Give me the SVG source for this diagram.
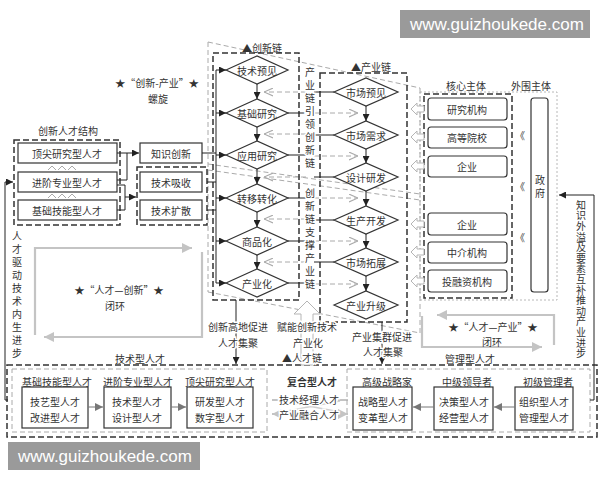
<svg xmlns="http://www.w3.org/2000/svg" width="600" height="480" viewBox="0 0 600 480">
<defs>
<style>
.t{font-family:"Noto Sans CJK SC","Noto Sans",sans-serif;font-size:10px;fill:#333;text-anchor:middle;dominant-baseline:central}
.v{font-family:"Noto Sans CJK SC","Noto Sans",sans-serif;font-size:10px;fill:#333;writing-mode:vertical-rl;text-anchor:start}
.h{stroke:#fff;stroke-width:3;paint-order:stroke}
.box{fill:#fff;stroke:#333;stroke-width:1.2}
.dash{fill:none;stroke:#333;stroke-width:1.5;stroke-dasharray:6,3}
.gdash{fill:none;stroke:#aaa;stroke-width:1;stroke-dasharray:5,3}
.gdot{fill:none;stroke:#b0b0b0;stroke-width:0.9;stroke-dasharray:2,2}
.ln{fill:none;stroke:#222;stroke-width:1}
.ga{fill:none;stroke:#aaa;stroke-width:1;stroke-dasharray:5,3}
.gl{fill:none;stroke:#c4c4c4;stroke-width:2.2}
.ho{fill:#fff;stroke:#b5b5b5;stroke-width:1}
.dm{fill:#fff;stroke:#333;stroke-width:1.2}
.wm{font-family:"Liberation Sans",Arial,sans-serif;font-size:17px;fill:#fff;dominant-baseline:central}
</style>
<marker id="ab" viewBox="0 0 8 8" refX="8" refY="4" markerWidth="7" markerHeight="7" markerUnits="userSpaceOnUse" orient="auto"><path d="M0,0L8,4L0,8z" fill="#222"/></marker>
<marker id="ag" viewBox="0 0 8 8" refX="8" refY="4" markerWidth="9" markerHeight="9" markerUnits="userSpaceOnUse" orient="auto"><path d="M0,0.5L8,4L0,7.5" fill="none" stroke="#aaa" stroke-width="1"/></marker>
<marker id="agf" viewBox="0 0 8 8" refX="8" refY="4" markerWidth="10" markerHeight="10" markerUnits="userSpaceOnUse" orient="auto"><path d="M0,0L8,4L0,8z" fill="#c4c4c4"/></marker>
<marker id="agm" viewBox="0 0 8 8" refX="8" refY="4" markerWidth="8" markerHeight="8" markerUnits="userSpaceOnUse" orient="auto"><path d="M0,0L8,4L0,8z" fill="#777"/></marker>
</defs>
<rect width="600" height="480" fill="#fff"/>

<g id="spiral">
<path class="gdash" d="M208,42L420,88M208,42V292M420,88V333M208,292L420,333M208,164L420,194M208,170L420,200"/>
</g>

<g id="spiral-label">
<text class="t" x="157" y="82" font-size="10.5">★“创新-产业”★</text>
<text class="t" x="158" y="98">螺旋</text>
</g>

<g id="talent-structure">
<text class="t" x="68" y="130">创新人才结构</text>
<rect class="dash" x="14" y="140" width="106" height="85"/>
<rect class="box" x="18" y="143" width="99" height="20"/>
<text class="t" x="67" y="153">顶尖研究型人才</text>
<rect class="box" x="18" y="172" width="99" height="20"/>
<text class="t" x="67" y="182">进阶专业型人才</text>
<rect class="box" x="18" y="200" width="99" height="20"/>
<text class="t" x="67" y="210">基础技能型人才</text>
<path d="M48,170l4,-4l4,4M58,170l4,-4l4,4M68,170l4,-4l4,4M48,198l4,-4l4,4M58,198l4,-4l4,4M68,198l4,-4l4,4" fill="none" stroke="#aaa" stroke-width="1"/>
</g>

<g id="knowledge-innovation">
<rect class="box" x="140" y="143" width="62" height="20"/>
<text class="t" x="171" y="153">知识创新</text>
</g>
<g id="tech-group">
<rect class="dash" x="137" y="167" width="70" height="58"/>
<rect class="box" x="140" y="172" width="62" height="20"/>
<text class="t" x="171" y="182">技术吸收</text>
<rect class="box" x="140" y="200" width="62" height="20"/>
<text class="t" x="171" y="210">技术扩散</text>
</g>

<g id="innovation-chain">
<rect class="dash" x="213" y="53" width="86" height="247"/>
<text class="t" x="262" y="47">▲创新链</text>
<polygon class="dm" points="226,70 257,56 288,70 257,84"/><text class="t" x="257" y="70">技术预见</text>
<polygon class="dm" points="226,113 257,99 288,113 257,127"/><text class="t" x="257" y="113">基础研究</text>
<polygon class="dm" points="226,155 257,141 288,155 257,169"/><text class="t" x="257" y="155">应用研究</text>
<polygon class="dm" points="226,198 257,184 288,198 257,212"/><text class="t" x="257" y="198">转移转化</text>
<polygon class="dm" points="226,241 257,227 288,241 257,255"/><text class="t" x="257" y="241">商品化</text>
<polygon class="dm" points="226,283 257,269 288,283 257,297"/><text class="t" x="257" y="283">产业化</text>
</g>

<g id="industry-chain">
<rect class="dash" x="320" y="73" width="87" height="249"/>
<text class="t" x="371" y="66">▲产业链</text>
<polygon class="dm" points="334,92 366,78 398,92 366,106"/><text class="t" x="366" y="92">市场预见</text>
<polygon class="dm" points="334,135 366,121 398,135 366,149"/><text class="t" x="366" y="135">市场需求</text>
<polygon class="dm" points="334,177 366,163 398,177 366,191"/><text class="t" x="366" y="177">设计研发</text>
<polygon class="dm" points="334,220 366,206 398,220 366,234"/><text class="t" x="366" y="220">生产开发</text>
<polygon class="dm" points="334,262 366,248 398,262 366,276"/><text class="t" x="366" y="262">市场拓展</text>
<polygon class="dm" points="334,305 366,291 398,305 366,319"/><text class="t" x="366" y="305">产业升级</text>
</g>

<g id="actors">
<text class="t" x="466" y="85">核心主体</text>
<text class="t" x="531" y="85">外围主体</text>
<rect class="gdot" x="420" y="92" width="137" height="208"/>
<rect class="dash" x="424" y="94" width="88" height="204"/>
<rect class="box" x="428" y="98" width="79" height="22" rx="3"/><text class="t" x="467" y="109">研究机构</text>
<rect class="box" x="428" y="127" width="79" height="21" rx="3"/><text class="t" x="467" y="137">高等院校</text>
<rect class="box" x="428" y="156" width="79" height="21" rx="3"/><text class="t" x="467" y="166">企业</text>
<rect class="box" x="428" y="213" width="79" height="22" rx="3"/><text class="t" x="467" y="224">企业</text>
<rect class="box" x="428" y="242" width="79" height="21" rx="3"/><text class="t" x="467" y="252">中介机构</text>
<rect class="box" x="428" y="270" width="79" height="22" rx="3"/><text class="t" x="467" y="281">投融资机构</text>
<rect class="box" x="531" y="98" width="17" height="194" rx="3"/>
<text class="v" x="540" y="175" letter-spacing="3">政府</text>
<text class="t" x="520" y="135" fill="#999">《</text>
<text class="t" x="520" y="186" fill="#999">《</text>
<text class="t" x="520" y="237" fill="#999">《</text>
</g>

<g id="loop-talent-innovation">
<path class="gl" d="M35,335V248H192" marker-end="url(#agf)"/>
<path class="gl" d="M202,252V337H44" marker-end="url(#agf)"/>
<text class="t" x="119" y="289" font-size="10.5">★“人才—创新”★</text>
<text class="t" x="115" y="305">闭环</text>
</g>
<g id="loop-talent-industry">
<path class="gl" d="M554,345V315H437" marker-end="url(#agf)"/>
<path class="gl" d="M422,316V347H542" marker-end="url(#agf)"/>
<text class="t" x="493" y="326" font-size="10.5">★“人才—产业”★</text>
<text class="t" x="492" y="341">闭环</text>
</g>

<g id="talent-chain">
<rect class="dash" x="7" y="365" width="590" height="72"/>
</g>
<g id="tech-talent">
<text class="t" x="140" y="358">技术型人才</text>
<rect class="gdash" x="12" y="369" width="255" height="63"/>
<text class="t" x="57" y="381">基础技能型人才</text>
<text class="t" x="138" y="381">进阶专业型人才</text>
<text class="t" x="220" y="381">顶尖研究型人才</text>
<rect class="box" x="22" y="387" width="66" height="41"/>
<text class="t" x="55" y="401">技艺型人才</text><text class="t" x="55" y="417">改进型人才</text>
<rect class="box" x="104" y="387" width="67" height="41"/>
<text class="t" x="137" y="401">技术型人才</text><text class="t" x="137" y="417">设计型人才</text>
<rect class="box" x="187" y="387" width="66" height="41"/>
<text class="t" x="220" y="401">研发型人才</text><text class="t" x="220" y="417">数字型人才</text>
</g>
<g id="composite-talent">
<path d="M282,401L340,412M282,412L340,401" stroke="#d0d0d0" stroke-width="1.5" fill="none"/>
<path d="M280,400H272M280,414H272" class="gl" marker-end="url(#agf)"/>
<path d="M338,400H348M338,414H348" class="gl" marker-end="url(#agf)"/>
<text class="t" x="312" y="381" font-weight="bold" font-size="10.5">复合型人才</text>
<text class="t h" x="309" y="399">技术经理人才</text>
<text class="t h" x="309" y="414">产业融合人才</text>
</g>
<g id="mgmt-talent">
<text class="t" x="470" y="358">管理型人才</text>
<rect class="gdash" x="347" y="369" width="243" height="63"/>
<text class="t" x="387" y="381">高级战略家</text>
<text class="t" x="467" y="381">中级领导者</text>
<text class="t" x="548" y="381">初级管理者</text>
<rect class="box" x="353" y="387" width="59" height="43"/>
<text class="t" x="383" y="401">战略型人才</text><text class="t" x="383" y="417">变革型人才</text>
<rect class="box" x="434" y="387" width="59" height="43"/>
<text class="t" x="464" y="401">决策型人才</text><text class="t" x="464" y="417">经营型人才</text>
<rect class="box" x="515" y="387" width="58" height="43"/>
<text class="t" x="544" y="401">组织型人才</text><text class="t" x="544" y="417">管理型人才</text>
</g>

<g id="connectors">
<path class="ln" d="M117,153H139" marker-end="url(#ab)"/>
<path class="ln" d="M117,180H127V153"/>
<path class="ln" d="M117,185H125V197H136" marker-end="url(#ab)"/>
<path class="ln" d="M117,210H125V197"/>
<path class="ln" d="M202,153H216M207,182H216M207,210H216"/>
<path class="ln" d="M216,70V283"/>
<path class="ln" d="M216,70H226" marker-end="url(#ab)"/>
<path class="ln" d="M216,113H226" marker-end="url(#ab)"/>
<path class="ln" d="M216,155H226" marker-end="url(#ab)"/>
<path class="ln" d="M216,198H226" marker-end="url(#ab)"/>
<path class="ln" d="M216,241H226" marker-end="url(#ab)"/>
<path class="ln" d="M216,283H226" marker-end="url(#ab)"/>
<path class="ln" d="M257,84V99" marker-end="url(#ab)"/>
<path class="ln" d="M257,127V141" marker-end="url(#ab)"/>
<path class="ln" d="M257,169V184" marker-end="url(#ab)"/>
<path class="ln" d="M257,212V227" marker-end="url(#ab)"/>
<path class="ln" d="M257,255V269" marker-end="url(#ab)"/>
<path class="ln" d="M366,106V121" marker-end="url(#ab)"/>
<path class="ln" d="M366,149V163" marker-end="url(#ab)"/>
<path class="ln" d="M366,191V206" marker-end="url(#ab)"/>
<path class="ln" d="M366,234V248" marker-end="url(#ab)"/>
<path class="ln" d="M366,276V291" marker-end="url(#ab)"/>
<path class="ln" d="M288,113H306M288,155H306M288,198H306M288,241H306M288,283H306"/>
<path class="ln" d="M334,92H314M334,135H314M334,177H314M334,220H314M334,262H314"/>
<path class="ga" d="M314,113H358" marker-end="url(#ag)"/>
<path class="ga" d="M314,156H358" marker-end="url(#ag)"/>
<path class="ga" d="M314,198H358" marker-end="url(#ag)"/>
<path class="ga" d="M314,241H358" marker-end="url(#ag)"/>
<path class="ga" d="M314,284H358" marker-end="url(#ag)"/>
<path class="ga" d="M306,92H264" marker-end="url(#ag)"/>
<path class="ga" d="M306,134H264" marker-end="url(#ag)"/>
<path class="ga" d="M306,177H264" marker-end="url(#ag)"/>
<path class="ga" d="M306,219H264" marker-end="url(#ag)"/>
<path class="ga" d="M306,262H264" marker-end="url(#ag)"/>
<polygon class="ho" points="411,109 417,103 417,106 424,106 424,112 417,112 417,115"/>
<polygon class="ho" points="411,137 417,131 417,134 424,134 424,140 417,140 417,143"/>
<polygon class="ho" points="411,166 417,160 417,163 424,163 424,169 417,169 417,172"/>
<polygon class="ho" points="411,224 417,218 417,221 424,221 424,227 417,227 417,230"/>
<polygon class="ho" points="411,252 417,246 417,249 424,249 424,255 417,255 417,258"/>
<polygon class="ho" points="411,281 417,275 417,278 424,278 424,284 417,284 417,287"/>
<polygon class="ho" points="307,301 320,314 313,314 313,365 301,365 301,314 294,314"/>
<path class="ln" d="M236,300V364" marker-end="url(#ab)"/>
<path class="ln" d="M382,322V364" marker-end="url(#ab)"/>
<path class="ln" d="M8,400H5V182H13" marker-end="url(#ab)"/>
<path class="ln" stroke-width="1.3" d="M590,400H594V195H559" marker-end="url(#ab)"/>
<path d="M88,407H103" stroke="#777" stroke-width="1" marker-end="url(#agm)"/>
<path d="M171,407H186" stroke="#777" stroke-width="1" marker-end="url(#agm)"/>
<path d="M434,407H413" stroke="#777" stroke-width="1" marker-end="url(#agm)"/>
<path d="M515,407H494" stroke="#777" stroke-width="1" marker-end="url(#agm)"/>
</g>

<g id="labels">
<text class="v h" x="310" y="67" letter-spacing="3">产业链引领创新链</text>
<text class="v h" x="310" y="188" letter-spacing="3">创新链支撑产业链</text>
<text class="t h" x="238" y="326">创新高地促进</text>
<text class="t h" x="238" y="342">人才集聚</text>
<text class="t h" x="307" y="326">赋能创新技术</text>
<text class="t h" x="308" y="342">产业化</text>
<text class="t h" x="302" y="357">▲人才链</text>
<text class="t h" x="382" y="336">产业集群促进</text>
<text class="t h" x="383" y="351">人才集聚</text>
<text class="v" x="17" y="231" letter-spacing="3">人才驱动技术内生进步</text>
<text class="v" x="581" y="200" letter-spacing="0.6">知识外溢及要素互补推动产业进步</text>
</g>

<g id="watermarks">
<rect x="400" y="10" width="190" height="28" fill="#8f8f8f" opacity="0.9"/>
<text class="wm" x="410" y="24">www.guizhoukede.com</text>
<rect x="8" y="442" width="192" height="28" fill="#8f8f8f" opacity="0.9"/>
<text class="wm" x="18" y="456">www.guizhoukede.com</text>
</g>
</svg>
